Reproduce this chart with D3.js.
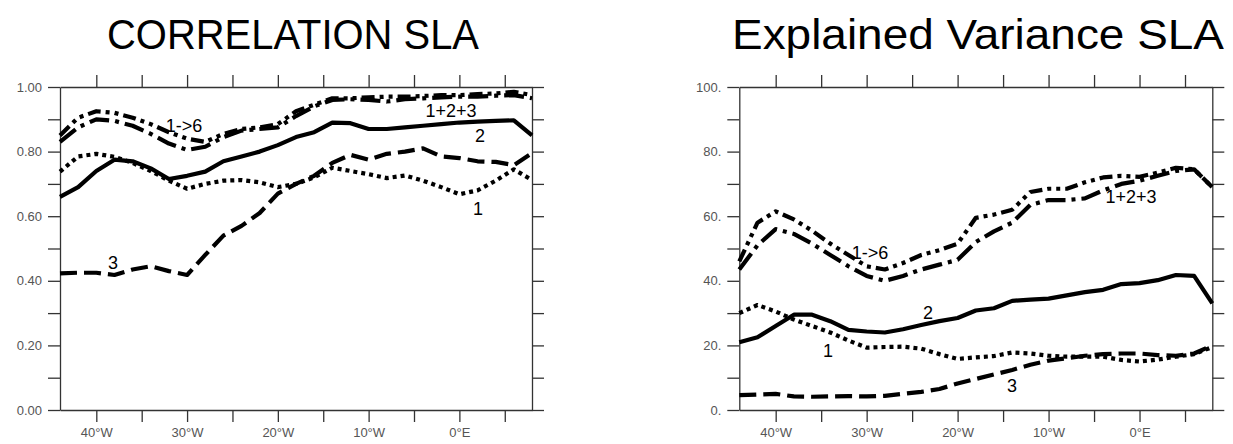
<!DOCTYPE html>
<html><head><meta charset="utf-8">
<script src="https://cdn.jsdelivr.net/npm/d3@7"></script>
<style>body{margin:0;background:#fff}</style>
</head><body>
<svg id="c" width="1233" height="444"></svg>
<script>
// ---- data ----
const lons = [-44,-42,-40,-38,-36,-34,-32,-30,-28,-26,-24,-22,-20,-18,-16,-14,-12,-10,-8,-6,-4,-2,0,2,4,6,8];

// Correlation SLA
const corrMode1 = [0.738,0.785,0.793,0.784,0.765,0.74,0.71,0.685,0.70,0.71,0.712,0.705,0.69,0.70,0.72,0.75,0.74,0.73,0.718,0.726,0.71,0.69,0.668,0.68,0.71,0.745,0.712];
const corrMode2 = [0.66,0.69,0.74,0.775,0.77,0.748,0.715,0.725,0.738,0.77,0.785,0.80,0.82,0.845,0.86,0.89,0.888,0.87,0.87,0.875,0.88,0.885,0.89,0.893,0.895,0.897,0.85];
const corrMode3 = [0.423,0.425,0.425,0.418,0.435,0.445,0.43,0.418,0.48,0.54,0.57,0.61,0.67,0.70,0.725,0.765,0.79,0.775,0.793,0.80,0.81,0.785,0.78,0.77,0.768,0.758,0.795];
const corrModes123 = [0.83,0.875,0.90,0.895,0.88,0.855,0.825,0.805,0.815,0.845,0.865,0.87,0.875,0.91,0.94,0.96,0.962,0.96,0.955,0.962,0.965,0.968,0.97,0.97,0.973,0.975,0.965];
const corrModes1to6 = [0.85,0.905,0.925,0.92,0.905,0.885,0.86,0.84,0.83,0.855,0.87,0.875,0.885,0.925,0.945,0.965,0.965,0.968,0.97,0.97,0.972,0.975,0.975,0.978,0.98,0.985,0.975];

// Explained Variance SLA
const varMode1 = [30,32.5,30.5,28,26,24,21.5,19.3,19.5,19.6,19,17.3,15.8,16.3,16.7,17.8,17.5,16.8,16.5,16.5,16.5,15.5,15,15.6,16.5,17.3,19.5];
const varMode2 = [21,22.5,26,29.5,29.5,27.5,24.8,24.3,24,25,26.3,27.5,28.5,30.8,31.5,33.8,34.2,34.5,35.5,36.5,37.2,39,39.3,40.2,41.8,41.5,33];
const varMode3 = [4.6,4.8,5.0,4.2,4.1,4.2,4.3,4.2,4.4,5.0,5.6,6.5,8.2,9.6,11,12.4,14,15.3,16,16.8,17.3,17.5,17.5,17,16.8,17.5,20];
const varModes123 = [43.5,51,56,54.5,51.5,48,44.5,41.5,40,41.5,43.5,45,46.5,52,55.3,58,63.5,65,65,65.5,68,70,71,72.5,74,74.5,69];
const varModes1to6 = [46,58,61.5,59,55.5,51.5,48,44.5,43.5,45.5,48,49.5,51.5,59.5,60.5,62,67.5,68.5,68.5,70.5,72,72.5,72.2,73.5,75,74.5,69];

const xTicks = [-40,-35,-30,-25,-20,-15,-10,-5,0,5];
const xTickLabels = ["40°W","","30°W","","20°W","","10°W","","0°E",""];
const corrTicks = [0,0.1,0.2,0.3,0.4,0.5,0.6,0.7,0.8,0.9,1.0];
const corrTickLabels = ["0.00","","0.20","","0.40","","0.60","","0.80","","1.00"];
const varTicks = [0,10,20,30,40,50,60,70,80,90,100];
const varTickLabels = ["0.","","20.","","40.","","60.","","80.","","100."];

const titles = ["CORRELATION SLA","Explained Variance SLA"];
const seriesNames = ["1","2","3","1+2+3","1->6"];

// ---- drawing ----
const svg = d3.select("#c");
const styles = {
  "1": {dash:"4,4"},
  "2": {dash:null},
  "3": {dash:"17,7"},
  "1+2+3": {dash:"20,6,4,6"},
  "1->6": {dash:"13,5,4,5,4,5"}
};

const panels = [
  {x0:60, x1:532, y0:410, y1:87, domain:[0,1], ticks:corrTicks, tickLabels:corrTickLabels,
   series:[corrMode1,corrMode2,corrMode3,corrModes123,corrModes1to6], title:titles[0], titleX:293, titleW:372,
   labels:{"1":[478,215],"2":[480,142],"3":[113,269],"1+2+3":[451,117],"1->6":[184,132]}},
  {x0:739.3, x1:1212.3, y0:410, y1:87, domain:[0,100], ticks:varTicks, tickLabels:varTickLabels,
   series:[varMode1,varMode2,varMode3,varModes123,varModes1to6], title:titles[1], titleX:978, titleW:492,
   labels:{"1":[828,357],"2":[928,319],"3":[1012,392],"1+2+3":[1131,203],"1->6":[870,259]}}
];

const axisColor = "#333";
const labelColor = "#555";
const tickLen = 12;

panels.forEach(p => {
  const x = d3.scaleLinear().domain([-44,8]).range([p.x0,p.x1]);
  const y = d3.scaleLinear().domain(p.domain).range([p.y0,p.y1]);
  const g = svg.append("g");

  // title
  g.append("text").attr("x",p.titleX).attr("y",49).attr("text-anchor","middle")
    .attr("font-family","'Liberation Sans', Arial, sans-serif").attr("font-size",43)
    .attr("textLength",p.titleW).attr("lengthAdjust","spacingAndGlyphs")
    .attr("fill","#000").text(p.title);

  // axes
  const ax = (gen, tx, ty) => {
    const a = g.append("g").attr("transform",`translate(${tx},${ty})`).call(gen);
    a.select(".domain").attr("stroke",axisColor).attr("stroke-width",1.3);
    a.selectAll(".tick line").attr("stroke",axisColor).attr("stroke-width",1.3);
    a.selectAll(".tick text").attr("fill",labelColor)
      .attr("font-family","'Liberation Sans', Arial, sans-serif").attr("font-size",13);
    return a;
  };
  ax(d3.axisBottom(x).tickValues(xTicks).tickSize(tickLen).tickSizeOuter(0)
      .tickFormat((d,i)=>xTickLabels[i]).tickPadding(6), 0, p.y0);
  ax(d3.axisTop(x).tickValues(xTicks).tickSize(tickLen).tickSizeOuter(0).tickFormat(""), 0, p.y1);
  ax(d3.axisLeft(y).tickValues(p.ticks).tickSize(tickLen).tickSizeOuter(0)
      .tickFormat((d,i)=>p.tickLabels[i]).tickPadding(6), p.x0, 0);
  ax(d3.axisRight(y).tickValues(p.ticks).tickSize(tickLen).tickSizeOuter(0).tickFormat(""), p.x1, 0);

  // lines
  const line = d3.line().x((d,i)=>x(lons[i])).y(d=>y(d));
  p.series.forEach((s,k) => {
    const nm = seriesNames[k];
    g.append("path").datum(s).attr("d",line).attr("fill","none")
      .attr("stroke","#000").attr("stroke-width",4.2)
      .attr("stroke-linejoin","round")
      .attr("stroke-dasharray",styles[nm].dash);
  });
  // curve labels
  seriesNames.forEach(nm => {
    const [lx,ly] = p.labels[nm];
    g.append("text").attr("x",lx).attr("y",ly).attr("text-anchor","middle")
      .attr("font-family","'Liberation Sans', Arial, sans-serif").attr("font-size",18)
      .attr("fill","#000").text(nm);
  });
});
</script>
</body></html>
